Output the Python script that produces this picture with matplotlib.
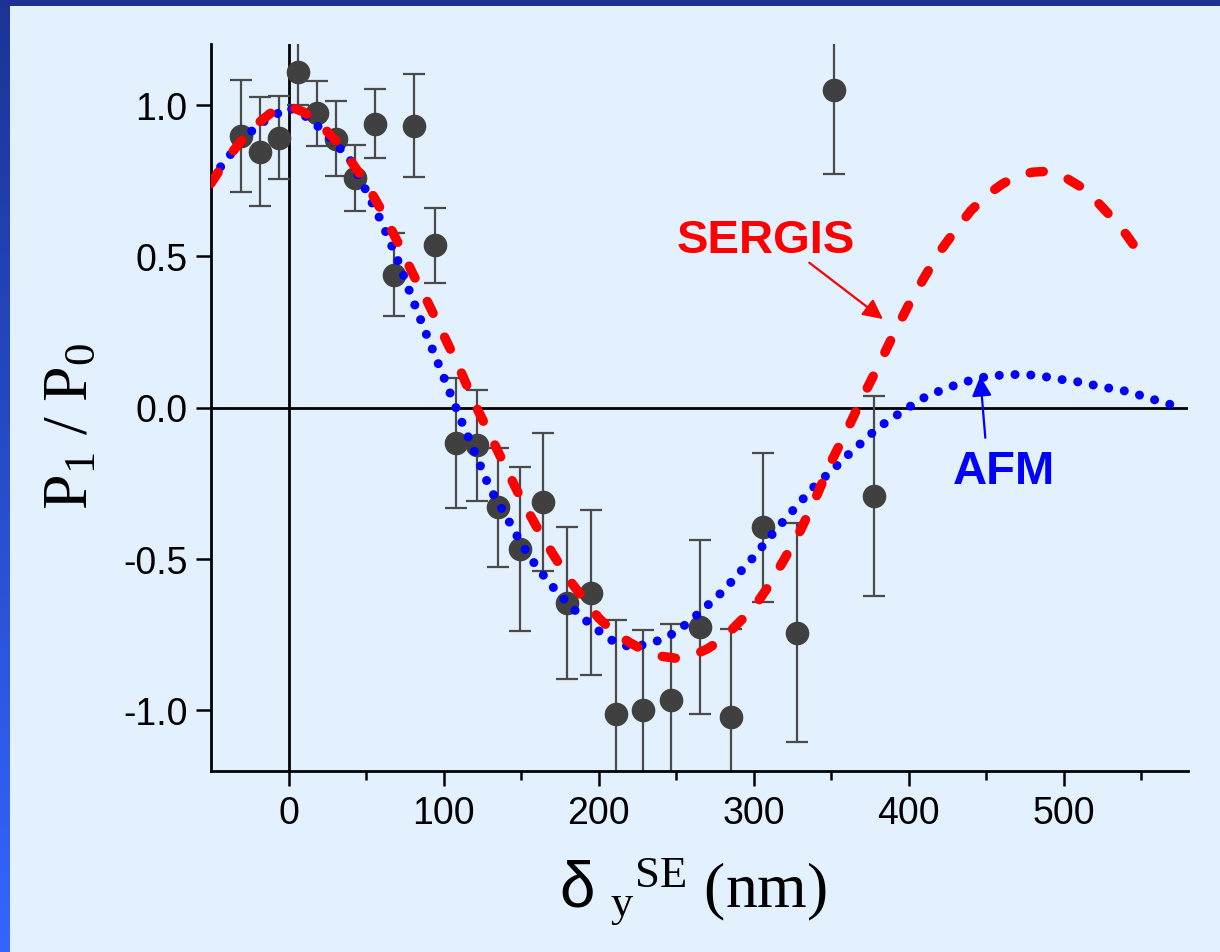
import numpy as np
import matplotlib
matplotlib.use("Agg")
import matplotlib.pyplot as plt
from matplotlib.patches import Rectangle
from matplotlib.ticker import FixedLocator

plt.rcParams["font.family"] = ["Liberation Sans", "DejaVu Sans"]
plt.rcParams["axes.unicode_minus"] = False
plt.rcParams["mathtext.fontset"] = "custom"
plt.rcParams["mathtext.rm"] = "Liberation Serif"
plt.rcParams["mathtext.it"] = "Liberation Serif:italic"
plt.rcParams["mathtext.sf"] = "Liberation Sans"

# measured polarization ratio with uncertainties
delta_nm = [-30.8, -18.6, -6.2, 6.2, 18.4, 30.8, 43.0, 55.5, 68.1, 81.2,
            94.2, 107.7, 121.6, 135.1, 149.5, 164.0, 179.5, 194.9, 211.1,
            228.3, 246.5, 265.1, 285.0, 305.8, 327.9, 351.7, 377.5]
ratio = [0.895, 0.845, 0.89, 1.106, 0.971, 0.887, 0.758, 0.937, 0.438, 0.93,
         0.536, -0.118, -0.125, -0.33, -0.467, -0.313, -0.645, -0.612, -1.012,
         -0.997, -0.964, -0.725, -1.021, -0.396, -0.743, 1.049, -0.293]
ratio_err = [0.185, 0.18, 0.137, 0.106, 0.108, 0.124, 0.108, 0.114, 0.137, 0.17,
             0.124, 0.214, 0.183, 0.196, 0.272, 0.228, 0.251, 0.272, 0.309,
             0.264, 0.25, 0.287, 0.29, 0.246, 0.362, 0.277, 0.33]

# SERGIS model curve
sergis_x = [-50, -40, -30, -20, -10, 0, 10, 20, 30, 40, 50, 60, 70, 80, 90,
            100, 110, 120, 130, 140, 150, 160, 170, 180, 190, 200, 210, 220,
            230, 240, 250, 260, 270, 280, 290, 300, 310, 320, 330, 340, 350,
            360, 370, 380, 390, 400, 410, 420, 430, 440, 450, 460, 470, 480,
            490, 500, 510, 520, 530, 540, 550]
sergis_y = [0.74, 0.82, 0.883, 0.937, 0.978, 0.995, 0.975, 0.937, 0.884, 0.815,
            0.74, 0.65, 0.55, 0.443, 0.345, 0.239, 0.132, 0.013, -0.091,
            -0.198, -0.302, -0.394, -0.48, -0.562, -0.63, -0.695, -0.743,
            -0.776, -0.804, -0.821, -0.828, -0.82, -0.797, -0.764, -0.712,
            -0.661, -0.586, -0.498, -0.407, -0.298, -0.178, -0.076, 0.032,
            0.134, 0.24, 0.34, 0.43, 0.515, 0.585, 0.65, 0.70, 0.737, 0.766,
            0.777, 0.78, 0.762, 0.731, 0.687, 0.632, 0.572, 0.50]

# AFM model curve
afm_x = [-50, -40, -30, -20, -10, 0, 10, 20, 30, 40, 50, 60, 70, 80, 90, 100,
         110, 120, 130, 140, 150, 160, 170, 180, 190, 200, 210, 220, 230, 240,
         250, 260, 270, 280, 290, 300, 310, 320, 330, 340, 350, 360, 370, 380,
         390, 400, 410, 420, 430, 440, 450, 460, 470, 480, 490, 500, 510, 520,
         530, 540, 550, 560, 570, 575]
afm_y = [0.753, 0.82, 0.88, 0.932, 0.962, 0.99, 0.965, 0.924, 0.874, 0.815,
         0.716, 0.612, 0.492, 0.357, 0.227, 0.101, -0.027, -0.147, -0.269,
         -0.356, -0.449, -0.526, -0.59, -0.646, -0.696, -0.737, -0.774, -0.79,
         -0.783, -0.767, -0.741, -0.70, -0.654, -0.607, -0.55, -0.493, -0.43,
         -0.37, -0.312, -0.255, -0.21, -0.16, -0.114, -0.067, -0.033, 0.001,
         0.033, 0.055, 0.074, 0.09, 0.102, 0.107, 0.109, 0.107, 0.10, 0.091,
         0.084, 0.073, 0.063, 0.054, 0.039, 0.023, 0.008, 0.001]

x_ticks = [0, 100, 200, 300, 400, 500]
x_minor_ticks = [50, 150, 250, 350, 450, 550]
y_ticks = [-1.0, -0.5, 0.0, 0.5, 1.0]
y_tick_labels = ["-1.0", "-0.5", "0.0", "0.5", "1.0"]

BG = "#E3F0FD"
W, H, DPI = 1220, 953, 100
fig = plt.figure(figsize=(W / DPI, H / DPI), dpi=DPI, facecolor=BG)

# slide frame: dark top strip and a blue gradient strip on the left
fig.patches.append(Rectangle((0, 1 - 7 / H), 1, 7 / H, transform=fig.transFigure,
                             facecolor="#1B3193", edgecolor="none", zorder=0))
strip = fig.add_axes([0, 0, 10 / W, 1 - 7 / H])
grad = np.linspace(0, 1, 256).reshape(-1, 1)
top_c = np.array([0x1C, 0x34, 0x96]) / 255
bot_c = np.array([0x33, 0x66, 0xFF]) / 255
img = top_c[None, None, :] * (1 - grad[:, :, None]) + bot_c[None, None, :] * grad[:, :, None]
strip.imshow(img, aspect="auto", extent=(0, 1, 0, 1))
strip.axis("off")

ax = fig.add_axes([211 / W, 1 - 772 / H, (1188 - 211) / W, (772 - 45) / H])
ax.set_facecolor(BG)
ax.set_xlim(-50, 580)
ax.set_ylim(-1.2, 1.2)

for side in ("top", "right"):
    ax.spines[side].set_visible(False)
for side in ("left", "bottom"):
    ax.spines[side].set_linewidth(2.0)

ax.axhline(0, color="black", lw=2.0, zorder=1)
ax.axvline(0, color="black", lw=2.0, zorder=1)

ax.errorbar(delta_nm, ratio, yerr=ratio_err, fmt="o", color="#404040",
            mfc="#404040", mec="#404040", ecolor="#4A4A4A", elinewidth=1.6,
            capsize=8, capthick=1.6, markersize=16, zorder=2)

ax.plot(afm_x, afm_y, color="#0000FF", lw=6.5, linestyle=(0, (0.001, 1.75)),
        dash_capstyle="round", zorder=3)
ax.plot(sergis_x, sergis_y, color="#FF0000", lw=6.8, linestyle=(0, (1.4, 2.8)),
        dash_capstyle="round", zorder=4)

ax.set_xticks(x_ticks)
ax.xaxis.set_minor_locator(FixedLocator(x_minor_ticks))
ax.set_yticks(y_ticks)
ax.set_yticklabels(y_tick_labels)
ax.tick_params(which="major", direction="out", length=11, width=1.8,
               labelsize=27, pad=6)
ax.tick_params(which="minor", direction="out", length=6.5, width=1.8)
ax.tick_params(axis="y", which="minor", left=False)

ax.set_xlabel(r"$\mathsf{\delta}\ {}_{\mathrm{y}}{}^{\mathrm{SE}}\ \mathrm{(nm)}$",
              fontsize=46, labelpad=18)
ax.xaxis.label.set_x(0.493)
ax.set_ylabel(r"$\mathrm{P}_{1}\ /\ \mathrm{P}_{0}$", fontsize=46)
ax.yaxis.set_label_coords(-0.113, 0.476)

ax.text(308, 0.553, "SERGIS", color="#FF0000", fontsize=34, fontweight="bold",
        ha="center", va="center")
ax.annotate("", xy=(383.3, 0.292), xytext=(335.8, 0.478),
            arrowprops=dict(arrowstyle="-|>", color="#FF0000", lw=1.6,
                            mutation_scale=30, shrinkA=0, shrinkB=0))
ax.text(461, -0.21, "AFM", color="#0000FF", fontsize=34, fontweight="bold",
        ha="center", va="center")
ax.annotate("", xy=(446, 0.103), xytext=(449.3, -0.10),
            arrowprops=dict(arrowstyle="-|>", color="#0000FF", lw=1.6,
                            mutation_scale=30, shrinkA=0, shrinkB=0))

fig.savefig("out.png", dpi=DPI, facecolor=BG)
